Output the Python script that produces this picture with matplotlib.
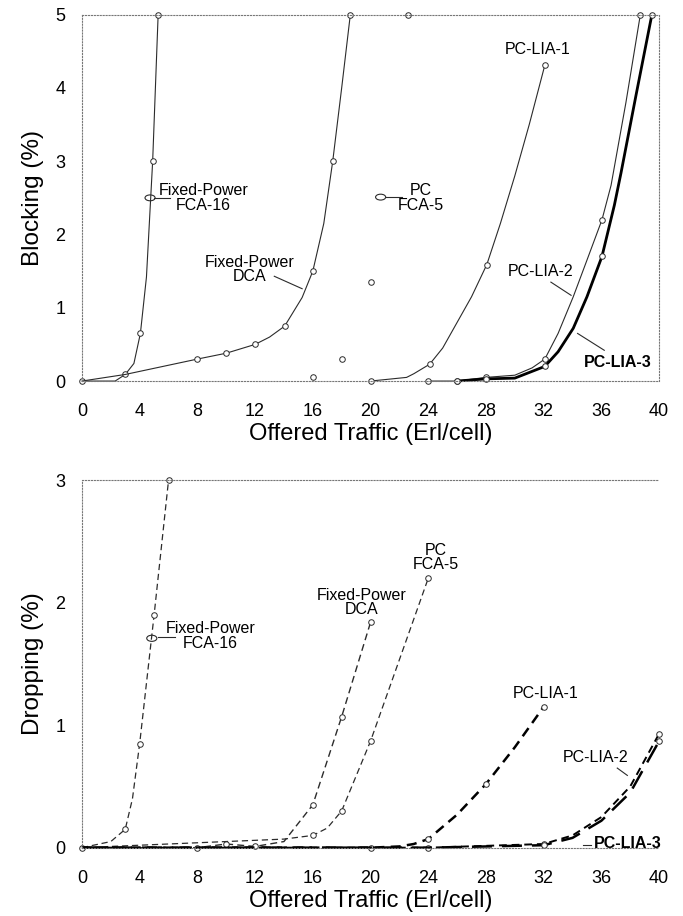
import matplotlib
matplotlib.use("Agg")
import matplotlib.pyplot as plt
from matplotlib.patches import Ellipse

plt.rcParams['font.family'] = ['Liberation Sans', 'DejaVu Sans']

# ---- blocking (%) vs offered traffic, upper panel ----
fca16_x = [0, 2.3, 3.0, 3.6, 4.05, 4.47, 4.9, 5.28]
fca16_y = [0, 0, 0.09, 0.24, 0.65, 1.42, 3.0, 5.0]
fca16_mk = [0, 2, 4, 6, 7]

dca_x = [0, 3, 8, 10, 12, 13, 14.05, 15.26, 16, 16.76, 17.38, 18.0, 18.6]
dca_y = [0, 0.09, 0.3, 0.38, 0.5, 0.6, 0.75, 1.14, 1.5, 2.15, 3.0, 4.0, 5.0]
dca_mk = [2, 3, 4, 6, 8, 10, 12]

fca5_x = [16, 18, 20, 22.6]
fca5_y = [0.05, 0.3, 1.35, 5.0]

lia1_x = [20, 22.5, 23, 24.1, 25, 26, 27, 28.06, 29, 30, 31, 32.08]
lia1_y = [0, 0.05, 0.1, 0.23, 0.45, 0.8, 1.15, 1.59, 2.15, 2.8, 3.5, 4.31]
lia1_mk = [0, 3, 7, 11]

lia2_x = [24, 26, 28, 30, 31.2, 32.08, 33, 34.05, 35, 36.04, 36.67, 37.7, 38.7]
lia2_y = [0, 0, 0.05, 0.08, 0.18, 0.3, 0.65, 1.15, 1.65, 2.2, 2.67, 3.8, 5.0]
lia2_mk = [0, 1, 2, 5, 9, 12]

lia3_x = [26, 28, 30, 32.08, 33, 34.05, 35, 36.04, 36.9, 37.36, 38.4, 39.5]
lia3_y = [0, 0.03, 0.04, 0.2, 0.4, 0.72, 1.15, 1.7, 2.4, 2.84, 3.9, 5.0]
lia3_mk = [0, 1, 3, 7, 11]

# ---- dropping (%) vs offered traffic, lower panel ----
d_fca16_x = [0, 2, 3, 3.5, 4, 5, 6]
d_fca16_y = [0, 0.05, 0.15, 0.4, 0.85, 1.9, 3.0]
d_fca16_mk = [0, 2, 4, 5, 6]

d_dca_x = [0, 8, 10, 12, 14, 16, 18, 20]
d_dca_y = [0, 0, 0.03, 0.01, 0.05, 0.35, 1.07, 1.84]
d_dca_mk = [1, 2, 3, 5, 6, 7]

d_fca5_x = [0, 14, 16, 17, 18, 20, 24]
d_fca5_y = [0, 0.07, 0.1, 0.16, 0.3, 0.87, 2.2]
d_fca5_mk = [2, 4, 5, 6]

d_lia1_x = [0, 20, 22, 23, 24, 26, 28, 30, 32]
d_lia1_y = [0, 0, 0.01, 0.03, 0.07, 0.27, 0.52, 0.82, 1.15]
d_lia1_mk = [1, 4, 6, 8]

d_lia2_x = [0, 24, 32, 34, 36, 38, 40]
d_lia2_y = [0, 0, 0.03, 0.1, 0.25, 0.5, 0.93]
d_lia2_mk = [1, 2, 6]

d_lia3_x = [0, 24, 32, 34, 36, 38, 40]
d_lia3_y = [0, 0, 0.02, 0.08, 0.22, 0.45, 0.87]
d_lia3_mk = [2, 6]

xticks = list(range(0, 41, 4))
ink = '#2b2b2b'
mk = dict(marker='o', ms=4, mfc='white', mec=ink, mew=0.7, clip_on=False)

fig = plt.figure(figsize=(6.83, 9.16), dpi=100)
ax1 = fig.add_axes([0.120, 0.584, 0.845, 0.400])
ax2 = fig.add_axes([0.120, 0.0746, 0.845, 0.401])


def frame(ax, ymax, right=True):
    ax.set_xlim(0, 40)
    ax.set_ylim(0, ymax)
    ax.set_xticks(xticks)
    ax.set_yticks(range(0, ymax + 1))
    ax.tick_params(length=0, labelsize=13)
    ax.tick_params(axis='x', pad=16)
    ax.tick_params(axis='y', pad=12)
    for s in ax.spines.values():
        s.set_linestyle(':')
        s.set_linewidth(0.8)
        s.set_color('#777777')
    if not right:
        ax.spines['right'].set_visible(False)
    ax.set_xlabel("Offered Traffic (Erl/cell)", fontsize=17, labelpad=2)


# upper panel
frame(ax1, 5)
ax1.set_ylabel("Blocking (%)", fontsize=17.5, labelpad=8)
ax1.plot(fca16_x, fca16_y, color=ink, lw=0.8, markevery=fca16_mk, **mk)
ax1.plot(dca_x, dca_y, color=ink, lw=0.8, markevery=dca_mk, **mk)
ax1.plot(fca5_x, fca5_y, ls='none', **mk)
ax1.plot(lia1_x, lia1_y, color=ink, lw=0.8, markevery=lia1_mk, **mk)
ax1.plot(lia2_x, lia2_y, color=ink, lw=0.8, markevery=lia2_mk, **mk)
ax1.plot(lia3_x, lia3_y, color='black', lw=2.0, markevery=lia3_mk, **mk)

ax1.add_patch(Ellipse((4.72, 2.5), 0.7, 0.08, fill=False, ec=ink, lw=0.8))
ax1.plot([4.98, 6.1], [2.5, 2.5], color=ink, lw=0.8)
ax1.text(8.4, 2.5, "Fixed-Power\nFCA-16", fontsize=11.5, ha='center', va='center',
         linespacing=0.95)
ax1.text(11.6, 1.52, "Fixed-Power\nDCA", fontsize=11.5, ha='center', va='center',
         linespacing=0.95)
ax1.plot([13.33, 15.26], [1.43, 1.26], color=ink, lw=0.8)
ax1.add_patch(Ellipse((20.7, 2.51), 0.7, 0.08, fill=False, ec=ink, lw=0.8))
ax1.plot([21.05, 22.2], [2.51, 2.51], color=ink, lw=0.8)
ax1.text(23.5, 2.5, "PC\nFCA-5", fontsize=11.5, ha='center', va='center',
         linespacing=0.95)
ax1.text(31.6, 4.52, "PC-LIA-1", fontsize=11.5, ha='center', va='center')
ax1.text(31.8, 1.49, "PC-LIA-2", fontsize=11.5, ha='center', va='center')
ax1.plot([32.5, 33.9], [1.35, 1.17], color=ink, lw=0.8)
ax1.text(37.1, 0.26, "PC-LIA-3", fontsize=11.5, ha='center', va='center',
         fontweight='bold')
ax1.plot([34.35, 36.2], [0.65, 0.42], color=ink, lw=0.8)

# lower panel
frame(ax2, 3, right=False)
ax2.set_ylabel("Dropping (%)", fontsize=17.5, labelpad=8)
ax2.plot(d_fca16_x, d_fca16_y, color=ink, lw=0.9, ls=(0, (5, 3)),
         markevery=d_fca16_mk, **mk)
ax2.plot(d_dca_x, d_dca_y, color=ink, lw=1.0, ls=(0, (5, 3)),
         markevery=d_dca_mk, **mk)
ax2.plot(d_fca5_x, d_fca5_y, color=ink, lw=0.9, ls=(0, (5, 3)),
         markevery=d_fca5_mk, **mk)
ax2.plot(d_lia1_x, d_lia1_y, color='black', lw=1.8, ls=(0, (4, 2.5)),
         markevery=d_lia1_mk, **mk)
ax2.plot(d_lia2_x, d_lia2_y, color='black', lw=1.4, ls=(0, (4, 2.5)),
         markevery=d_lia2_mk, **mk)
ax2.plot(d_lia3_x, d_lia3_y, color='black', lw=1.8, ls=(0, (8, 4)),
         markevery=d_lia3_mk, **mk)

ax2.add_patch(Ellipse((4.84, 1.71), 0.7, 0.05, fill=False, ec=ink, lw=0.8))
ax2.plot([5.28, 6.46], [1.72, 1.72], color=ink, lw=0.8)
ax2.text(8.9, 1.73, "Fixed-Power\nFCA-16", fontsize=11.5, ha='center', va='center',
         linespacing=0.95)
ax2.text(19.4, 2.0, "Fixed-Power\nDCA", fontsize=11.5, ha='center', va='center',
         linespacing=0.95)
ax2.text(24.5, 2.37, "PC\nFCA-5", fontsize=11.5, ha='center', va='center',
         linespacing=0.95)
ax2.text(32.15, 1.26, "PC-LIA-1", fontsize=11.5, ha='center', va='center')
ax2.text(35.6, 0.74, "PC-LIA-2", fontsize=11.5, ha='center', va='center')
ax2.plot([37.1, 37.8], [0.65, 0.59], color=ink, lw=0.8)
ax2.text(35.5, 0.03, "PC-LIA-3", fontsize=11.5, ha='left', va='center',
         fontweight='bold')
ax2.plot([34.7, 35.3], [0.02, 0.02], color=ink, lw=0.8)

fig.savefig("out.png", dpi=100)
